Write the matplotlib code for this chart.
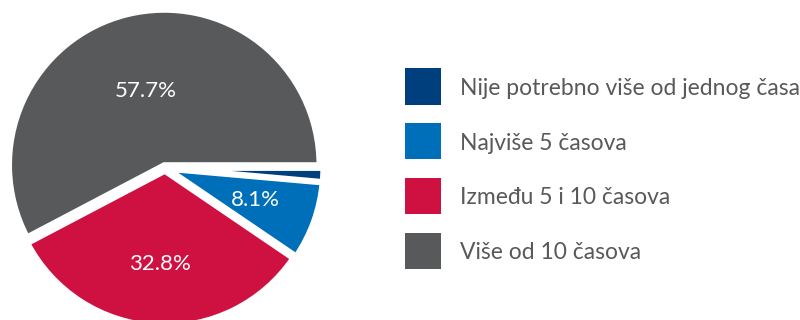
import matplotlib
matplotlib.use("Agg")
import numpy as np
import matplotlib.pyplot as plt
from matplotlib.patches import Rectangle

plt.rcParams['font.family'] = ['Lato', 'DejaVu Sans']

# Shares of respondents by time needed (percent)
categories = [
    "Nije potrebno više od jednog časa",
    "Najviše 5 časova",
    "Između 5 i 10 časova",
    "Više od 10 časova",
]
shares = [1.4, 8.1, 32.8, 57.7]
colors = ["#003F7D", "#006FBA", "#CE1141", "#58595B"]
text_grey = "#58595B"

W, H = 800, 320
fig = plt.figure(figsize=(W / 100, H / 100), dpi=100)

# pie axes: centre (165, 168) px, radius about 155 px, limits +-1.1
R_px = 155
lim = 1.1
cx, cy = 165, 168
side = 2 * lim * R_px
ax = fig.add_axes([(cx - side / 2) / W, (H - cy - side / 2) / H, side / W, side / H])


def fmt(p):
    return f"{p:.1f}%" if p > 5 else ""


wedges, _, autotexts = ax.pie(
    shares,
    colors=colors,
    startangle=0,
    counterclock=False,
    explode=[0.02] * len(shares),
    autopct=fmt,
    pctdistance=0.6,
    wedgeprops=dict(edgecolor="white", linewidth=4),
    textprops=dict(color="white", fontsize=16),
)
ax.set_xlim(-lim, lim)
ax.set_ylim(-lim, lim)
ax.set_aspect("equal")
ax.axis("off")
for w in wedges:
    w.set_clip_on(False)

# the largest wedge carries its label closer to the centre
big = wedges[-1]
mid = np.deg2rad((big.theta1 + big.theta2) / 2)
autotexts[-1].set_position((0.49 * np.cos(mid) + big.center[0],
                            0.49 * np.sin(mid) + big.center[1]))

# legend: colour squares with labels, laid out in pixels
sq = 36
x_sq, x_txt = 405, 460
y_first, pitch = 86.5, 54.7
for i, (lab, col) in enumerate(zip(categories, colors)):
    yc = y_first + i * pitch
    fig.add_artist(Rectangle((x_sq / W, (H - yc - sq / 2) / H), sq / W, sq / H,
                             transform=fig.transFigure, facecolor=col,
                             edgecolor="none"))
    fig.text(x_txt / W, (H - yc) / H, lab, fontsize=16.5, color=text_grey,
             ha="left", va="center_baseline")

fig.savefig("out.png", dpi=100)
